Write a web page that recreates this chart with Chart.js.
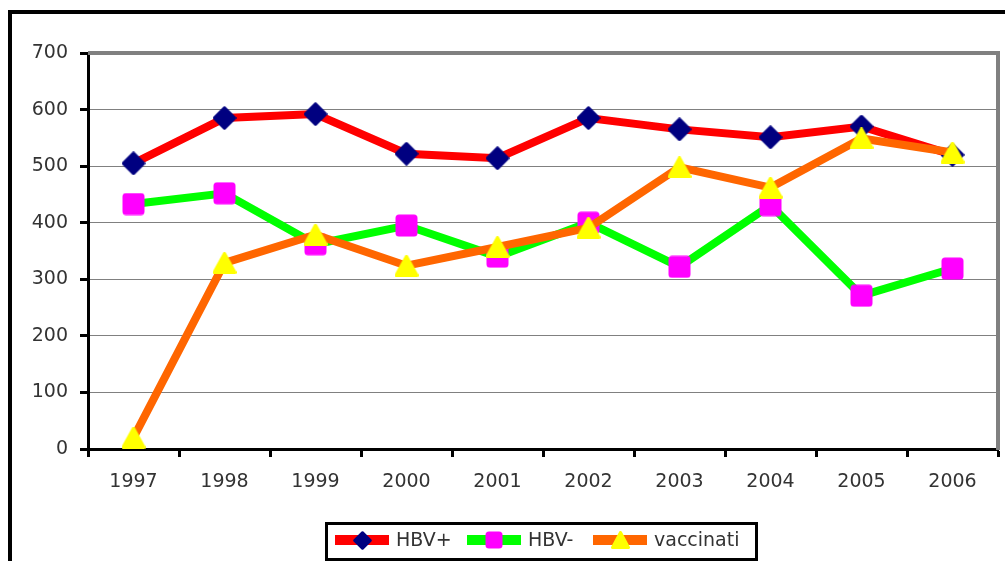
<!DOCTYPE html>
<html><head><meta charset="utf-8">
<script src="https://cdn.jsdelivr.net/npm/chart.js@4.4.1/dist/chart.umd.min.js"></script>
<style>html,body{margin:0;padding:0;background:#fff;overflow:hidden}#wrap{width:1005px;height:561px;position:relative;overflow:hidden}canvas{display:block}</style>
</head><body><div id="wrap"><canvas id="c" width="1005" height="561"></canvas></div>
<script>
const years = ['1997','1998','1999','2000','2001','2002','2003','2004','2005','2006'];
const hbvPos = [505, 585, 592, 522, 514, 585, 565, 551, 570, 520];
const hbvNeg = [433, 452, 362, 395, 340, 400, 322, 431, 271, 319];
const vaccinati = [20, 329, 379, 324, 357, 391, 498, 462, 549, 524];
const seriesNames = ['HBV+', 'HBV-', 'vaccinati'];
const yTicks = [0, 100, 200, 300, 400, 500, 600, 700];

function makeDiamond(size, color) {
  const c = document.createElement('canvas'); c.width = c.height = size;
  const g = c.getContext('2d'); g.fillStyle = color; g.strokeStyle = color;
  g.lineJoin = 'round'; g.lineWidth = 2.5;
  const h = size / 2, r = h - 1.5;
  g.beginPath(); g.moveTo(h, h - r); g.lineTo(h + r, h); g.lineTo(h, h + r); g.lineTo(h - r, h); g.closePath();
  g.fill(); g.stroke(); return c;
}
function makeSquare(size, color) {
  const c = document.createElement('canvas'); c.width = c.height = size;
  const g = c.getContext('2d'); g.fillStyle = color;
  g.beginPath(); g.roundRect(0.5, 0.5, size - 1, size - 1, 3.5); g.fill(); return c;
}
function makeTriangle(w, h, color) {
  const c = document.createElement('canvas'); c.width = w; c.height = h;
  const g = c.getContext('2d'); g.fillStyle = color; g.strokeStyle = color;
  g.lineJoin = 'round'; g.lineWidth = 3;
  g.beginPath(); g.moveTo(w / 2, 1.5); g.lineTo(w - 1.5, h - 1.5); g.lineTo(1.5, h - 1.5); g.closePath();
  g.fill(); g.stroke(); return c;
}

const mk = [makeDiamond(24, '#000080'), makeSquare(23, '#FF00FF'), makeTriangle(24, 22, '#FFFF00')];
const mkLegend = [makeDiamond(19, '#000080'), makeSquare(18, '#FF00FF'), makeTriangle(19, 18, '#FFFF00')];
const lineColors = ['#FF0000', '#00FF00', '#FF6600'];
const PLOT = {left: 88, top: 53, right: 998, bottom: 449};

const areaPlugin = {
  id: 'area',
  afterLayout(chart) {
    const a = chart.chartArea;
    a.left = PLOT.left; a.top = PLOT.top; a.right = PLOT.right; a.bottom = PLOT.bottom;
    a.width = PLOT.right - PLOT.left; a.height = PLOT.bottom - PLOT.top;
    const x = chart.scales.x, y = chart.scales.y;
    x.left = PLOT.left; x.right = PLOT.right; x.width = a.width; x.top = PLOT.bottom;
    x.configure();
    y.top = PLOT.top; y.bottom = PLOT.bottom; y.height = a.height; y.right = PLOT.left;
    y.configure();
  }
};

const framePlugin = {
  id: 'frame',
  beforeDatasetsDraw(chart) {
    const ctx = chart.ctx, a = chart.chartArea;
    ctx.save();
    ctx.strokeStyle = '#808080'; ctx.lineWidth = 4; ctx.lineCap = 'butt';
    ctx.beginPath(); ctx.moveTo(a.left, a.top); ctx.lineTo(a.right, a.top); ctx.lineTo(a.right, a.bottom + 1); ctx.stroke();
    ctx.restore();
  },
  afterDraw(chart) {
    const ctx = chart.ctx;
    ctx.save();
    ctx.strokeStyle = '#000'; ctx.lineWidth = 4;
    ctx.strokeRect(10, 12, 1030, 600);
    ctx.lineWidth = 3;
    ctx.fillStyle = '#fff';
    ctx.fillRect(326.5, 523.5, 430, 36);
    ctx.strokeRect(326.5, 523.5, 430, 36);
    const items = [
      {x0: 335, name: seriesNames[0]},
      {x0: 467, name: seriesNames[1]},
      {x0: 593, name: seriesNames[2]}
    ];
    const cy = 540;
    items.forEach((it, i) => {
      ctx.strokeStyle = lineColors[i]; ctx.lineWidth = 10; ctx.lineCap = 'butt';
      ctx.beginPath(); ctx.moveTo(it.x0, cy); ctx.lineTo(it.x0 + 54, cy); ctx.stroke();
      const img = mkLegend[i];
      ctx.drawImage(img, Math.round(it.x0 + 27 - img.width / 2), Math.round(cy - img.height / 2));
      ctx.fillStyle = '#333'; ctx.font = '19px "DejaVu Sans"';
      ctx.textBaseline = 'middle'; ctx.textAlign = 'left';
      ctx.fillText(it.name, it.x0 + 61, cy + 1);
    });
    ctx.restore();
  }
};

Chart.defaults.font.family = '"DejaVu Sans", sans-serif';
Chart.defaults.font.size = 19;
Chart.defaults.color = '#333';

new Chart(document.getElementById('c'), {
  type: 'line',
  data: {
    labels: years,
    datasets: [
      {label: seriesNames[0], data: hbvPos, borderColor: lineColors[0], borderWidth: 8, pointStyle: mk[0], pointRadius: 12, order: 3, clip: false, tension: 0},
      {label: seriesNames[1], data: hbvNeg, borderColor: lineColors[1], borderWidth: 8, pointStyle: mk[1], pointRadius: 12, order: 2, clip: false, tension: 0},
      {label: seriesNames[2], data: vaccinati, borderColor: lineColors[2], borderWidth: 8, pointStyle: mk[2], pointRadius: 12, order: 1, clip: false, tension: 0}
    ]
  },
  options: {
    responsive: false,
    animation: false,
    devicePixelRatio: 1,
    layout: {padding: {top: 53, right: 7, left: 0, bottom: 0}},
    plugins: {legend: {display: false}, tooltip: {enabled: false}},
    events: [],
    scales: {
      x: {
        type: 'category',
        offset: true,
        grid: {display: true, drawOnChartArea: false, drawTicks: true, tickLength: 8, tickColor: '#000', tickWidth: 3, offset: true},
        border: {display: true, color: '#000', width: 3},
        ticks: {padding: 14, color: '#333', maxRotation: 0, autoSkip: false},
        afterFit(s) { s.height = 112; }
      },
      y: {
        min: 0, max: 700,
        afterBuildTicks(s) { s.ticks = yTicks.map(v => ({value: v})); },
        grid: {color: '#808080', lineWidth: 1, drawTicks: true, tickLength: 8, tickColor: '#000', tickWidth: 3},
        border: {display: true, color: '#000', width: 3},
        ticks: {padding: 12, color: '#333'},
        afterFit(s) { s.width = 88; }
      }
    }
  },
  plugins: [areaPlugin, framePlugin]
});
</script>
</body></html>
